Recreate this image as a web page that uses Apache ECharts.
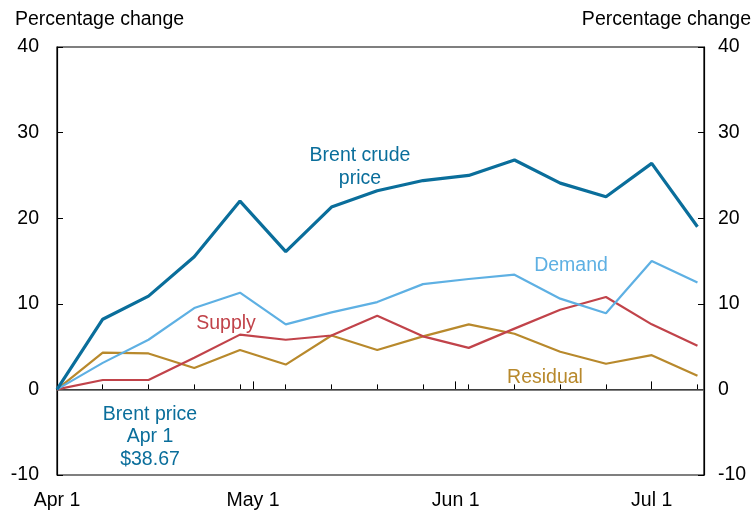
<!DOCTYPE html>
<html>
<head>
<meta charset="utf-8">
<title>Brent crude price decomposition</title>
<script src="https://cdn.jsdelivr.net/npm/echarts@6.0.0/dist/echarts.min.js"></script>
<style>
  html, body { margin: 0; padding: 0; background: #fff; }
  #main { width: 756px; height: 511px; }
</style>
</head>
<body>
<div id="main"></div>
<script>
// weekly observations, % change since Apr 1
var weeks = ['2016-04-01', '2016-04-08', '2016-04-15', '2016-04-22', '2016-04-29',
             '2016-05-06', '2016-05-13', '2016-05-20', '2016-05-27', '2016-06-03',
             '2016-06-10', '2016-06-17', '2016-06-24', '2016-07-01', '2016-07-08'];
var brent    = [0, 8.2, 10.9, 15.5, 22.0, 16.1, 21.3, 23.2, 24.4, 25.0, 26.8, 24.1, 22.5, 26.4, 19.0];
var demand   = [0, 3.1, 5.8, 9.5, 11.3, 7.6, 9.0, 10.2, 12.3, 12.9, 13.4, 10.6, 8.9, 15.0, 12.5];
var supply   = [0, 1.1, 1.1, 3.7, 6.4, 5.8, 6.3, 8.6, 6.2, 4.85, 7.1, 9.3, 10.8, 7.6, 5.1];
var residual = [0, 4.3, 4.2, 2.5, 4.6, 2.9, 6.3, 4.6, 6.2, 7.6, 6.5, 4.4, 3.0, 4.0, 1.6];
var monthStarts = ['2016-04-01', '2016-05-01', '2016-06-01', '2016-07-01'];
var xStart = '2016-04-01', xEnd = '2016-07-09';

var DAY = 86400000;
var MONTHS = ['Jan','Feb','Mar','Apr','May','Jun','Jul','Aug','Sep','Oct','Nov','Dec'];
var FONT = "'Liberation Sans', Arial, Helvetica, sans-serif";
var FS = 19.5;

function pairs(vals) {
  return weeks.map(function (d, i) { return [Date.parse(d), vals[i]]; });
}
var monthTs = monthStarts.map(function (d) { return Date.parse(d); });

var chart = echarts.init(document.getElementById('main'), null, { renderer: 'canvas' });

function yAxisCfg(pos, margin) {
  return {
    type: 'value', position: pos, min: -10, max: 40, interval: 10,
    axisLine: { show: true, lineStyle: { color: '#000', width: 1.2 } },
    axisTick: { show: true, inside: true, length: 6, lineStyle: { color: '#000', width: 1 } },
    axisLabel: { color: '#000', fontSize: FS, fontFamily: FONT, margin: margin },
    splitLine: { show: false }
  };
}

function lineSeries(name, vals, color, width) {
  return {
    name: name, type: 'line', data: pairs(vals), xAxisIndex: 0, yAxisIndex: 0,
    showSymbol: false, symbol: 'none', smooth: false, silent: true,
    lineStyle: { color: color, width: width },
    z: 3
  };
}

var series = [
  lineSeries('Residual', residual, '#b8892c', 2.2),
  lineSeries('Supply', supply, '#c1434a', 2.2),
  lineSeries('Demand', demand, '#5eb0e3', 2.2),
  lineSeries('Brent', brent, '#0a6e9b', 3.2)
];
// zero line
series[0].markLine = {
  silent: true, symbol: 'none', animation: false,
  label: { show: false },
  lineStyle: { color: '#555', width: 1.5, type: 'solid' },
  data: [{ yAxis: 0 }],
  z: 2
};

var option = {
  animation: false,
  backgroundColor: '#fff',
  grid: { left: 57, right: 52, top: 47, bottom: 34, show: true, borderColor: '#000', borderWidth: 1.2 },
  xAxis: [
    {
      // weekly ticks
      type: 'value', min: Date.parse(xStart), max: Date.parse(xEnd), interval: 7 * DAY,
      position: 'bottom',
      axisLine: { show: true, lineStyle: { color: '#000', width: 1.2 } },
      axisTick: { show: true, inside: true, length: 5, lineStyle: { color: '#000', width: 1 } },
      axisLabel: { show: false },
      splitLine: { show: false }
    },
    {
      // month ticks and labels
      type: 'value', min: Date.parse(xStart), max: Date.parse(xEnd),
      position: 'bottom',
      axisLine: { show: false },
      axisTick: { show: true, inside: true, length: 8, customValues: monthTs, lineStyle: { color: '#000', width: 1 } },
      axisLabel: {
        show: true, customValues: monthTs, margin: 16,
        color: '#000', fontSize: FS, fontFamily: FONT,
        formatter: function (v) {
          var d = new Date(v);
          return MONTHS[d.getUTCMonth()] + ' ' + d.getUTCDate();
        }
      },
      splitLine: { show: false }
    }
  ],
  yAxis: [yAxisCfg('left', 18), yAxisCfg('right', 14)],
  series: series,
  graphic: [
    { type: 'text', left: 15, top: 10, style: { text: 'Percentage change', fill: '#000', font: FS + 'px ' + FONT } },
    { type: 'text', right: 5, top: 10, style: { text: 'Percentage change', fill: '#000', font: FS + 'px ' + FONT } },
    { type: 'text', x: 360, y: 167, style: { text: 'Brent crude\nprice', fill: '#0a6e9b', font: FS + 'px ' + FONT, align: 'center', verticalAlign: 'middle', lineHeight: 22.5 } },
    { type: 'text', x: 571, y: 266, style: { text: 'Demand', fill: '#5eb0e3', font: FS + 'px ' + FONT, align: 'center', verticalAlign: 'middle' } },
    { type: 'text', x: 226, y: 324, style: { text: 'Supply', fill: '#c1434a', font: FS + 'px ' + FONT, align: 'center', verticalAlign: 'middle' } },
    { type: 'text', x: 545, y: 378, style: { text: 'Residual', fill: '#b8892c', font: FS + 'px ' + FONT, align: 'center', verticalAlign: 'middle' } },
    { type: 'text', x: 150, y: 437, style: { text: 'Brent price\nApr 1\n$38.67', fill: '#0a6e9b', font: FS + 'px ' + FONT, align: 'center', verticalAlign: 'middle', lineHeight: 22.5 } }
  ]
};

chart.setOption(option);
</script>
</body>
</html>
